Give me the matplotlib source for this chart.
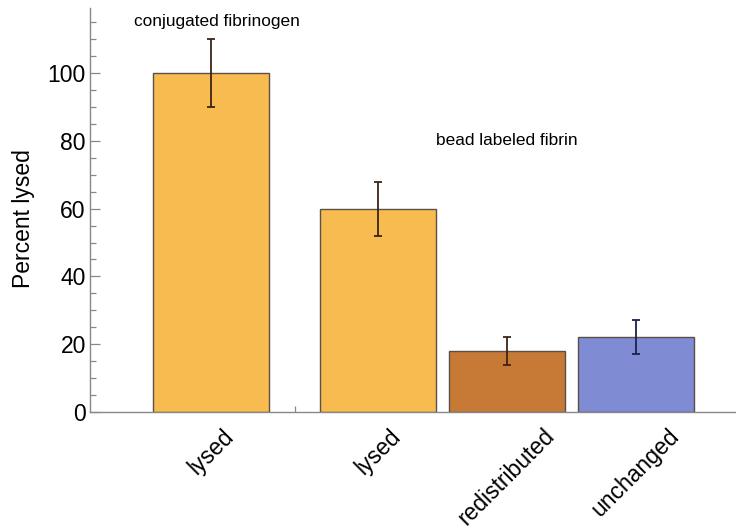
import numpy as np
import matplotlib
matplotlib.use('Agg')
import matplotlib.pyplot as plt

plt.rcParams['font.family'] = ['Liberation Sans', 'DejaVu Sans']

# lysis results, one bar per condition
labels = ['lysed', 'lysed', 'redistributed', 'unchanged']
values = [100, 60, 18, 22]
err_low = [90, 52, 14, 17]
err_high = [110, 68, 22, 27]
groups = ['conjugated fibrinogen', 'bead labeled fibrin']

positions = np.array([0.0, 1.3, 2.3, 3.3])
bar_colors = ['#F8BB4F', '#F8BB4F', '#C77A36', '#7F8BD3']
err_colors = ['#3a2418', '#3a2418', '#3a2418', '#1c2050']

fig = plt.figure(figsize=(7.36, 5.29), dpi=100)
ax = fig.add_axes([90 / 736, 1 - 412 / 529, 646 / 736, 404 / 529])

ax.bar(positions, values, width=0.9, color=bar_colors,
       edgecolor='#5a5048', linewidth=1.0, zorder=2)

vals = np.array(values)
yerr = np.vstack([vals - np.array(err_low), np.array(err_high) - vals])
for i, x in enumerate(positions):
    ax.errorbar(x, vals[i], yerr=yerr[:, i:i + 1], fmt='none',
                ecolor=err_colors[i], elinewidth=1.3, capsize=3,
                capthick=1.3, zorder=3)

ax.text(positions[0] + 0.05, 115.3, groups[0], ha='center', va='center',
        fontsize=12.4)
ax.text(positions[2], 80.2, groups[1], ha='center', va='center',
        fontsize=12.4)

ax.set_xlim(-0.94, 4.08)
ax.set_ylim(0, 119.2)

ax.spines['top'].set_visible(False)
ax.spines['right'].set_visible(False)
for side in ('left', 'bottom'):
    ax.spines[side].set_color('#888888')
    ax.spines[side].set_linewidth(1.0)

ax.set_yticks(np.arange(0, 101, 20))
ax.set_yticks(np.arange(0, 119, 5), minor=True)
ax.tick_params(axis='y', which='major', direction='in', length=7,
               width=0.9, color='#888888', labelsize=16.5, pad=3)
ax.tick_params(axis='y', which='minor', direction='in', length=4,
               width=0.9, color='#888888')

ax.set_xticks(positions)
ax.set_xticklabels(labels, rotation=45, ha='center', va='top')
ax.set_xticks([(positions[0] + positions[1]) / 2], minor=True)
ax.tick_params(axis='x', which='major', direction='in', length=4,
               width=0.9, color='#888888', labelsize=16.5, pad=9)
ax.tick_params(axis='x', which='minor', direction='in', length=4,
               width=0.9, color='#888888')

ax.set_ylabel('Percent lysed', fontsize=16.5)
ax.yaxis.set_label_coords(-0.085, 0.48)

fig.savefig('out.png', dpi=100)
